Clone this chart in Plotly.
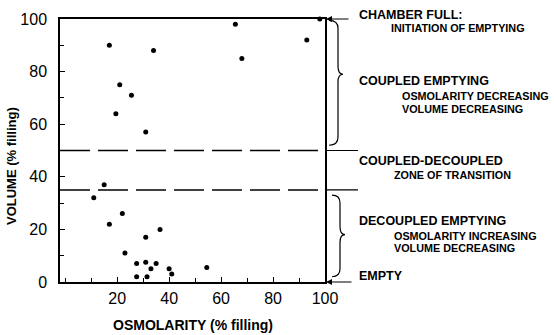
import plotly.graph_objects as go

# ---- data ----
osmolarity = [17, 34, 21, 25.5, 19.5, 31, 65.5, 68, 93, 98,
              15, 11, 22, 17, 36.5, 31, 23, 27.5, 31, 35, 33, 40, 54.5, 27.5, 31.5, 41]
volume = [90, 88, 75, 71, 64, 57, 98, 85, 92, 100,
          37, 32, 26, 22, 20, 17, 11, 7, 7.5, 7, 5, 5, 5.5, 2, 2, 3]

x_ticks = [20, 40, 60, 80, 100]
y_ticks = [0, 20, 40, 60, 80, 100]
boundaries = [50, 35]  # zone boundaries (volume %)

zone_titles = ["CHAMBER FULL:", "COUPLED EMPTYING", "COUPLED-DECOUPLED",
               "DECOUPLED EMPTYING", "EMPTY"]
zone_subtitles = ["INITIATION OF EMPTYING", "OSMOLARITY DECREASING", "VOLUME DECREASING",
                  "ZONE OF TRANSITION", "OSMOLARITY INCREASING", "VOLUME DECREASING"]

x_title = "OSMOLARITY (% filling)"
y_title = "VOLUME (% filling)"

# ---- figure ----
W, H = 554, 335
L, R, T, B = 60, 229, 19, 53
pw = W - L - R
ph = H - T - B


def px2paper(px):
    return (px - L) / pw


def py2paper(py):
    return (H - B - py) / ph


FONT = "Liberation Sans, Arial, sans-serif"

fig = go.Figure()
fig.add_trace(go.Scatter(
    x=osmolarity, y=volume, mode="markers",
    marker=dict(color="black", size=5),
    cliponaxis=False, showlegend=False, hoverinfo="x+y",
))

axis_common = dict(
    showline=True, linecolor="black", linewidth=1.5, mirror=True,
    showgrid=False, zeroline=False, ticks="inside", ticklen=5,
    tickcolor="black", tickwidth=1,
    tickfont=dict(family=FONT, size=16, color="black"),
    minor=dict(ticks="inside", dtick=10, ticklen=4, tickcolor="black", tickwidth=1),
)

fig.update_xaxes(range=[-2, 100], tickvals=x_ticks, ticklabelstandoff=1, **axis_common)
fig.update_yaxes(range=[0, 100], tickvals=y_ticks, ticklabelstandoff=8, **axis_common)

shapes = []
for b in boundaries:
    shapes.append(dict(type="line", xref="x", yref="y", x0=-2, x1=100, y0=b, y1=b,
                       line=dict(color="black", width=1.5, dash="30px,8px")))
    shapes.append(dict(type="line", xref="paper", yref="y", x0=1.0, x1=px2paper(358),
                       y0=b, y1=b, line=dict(color="black", width=1.2)))


def brace(ytop, ymid, ybot, xe, xv, xt, d):
    return (f"M {xe},{ytop} Q {xv},{ytop} {xv},{ytop - d} "
            f"L {xv},{ymid + d} Q {xv},{ymid} {xt},{ymid} "
            f"Q {xv},{ymid} {xv},{ymid - d} "
            f"L {xv},{ybot + d} Q {xv},{ybot} {xe},{ybot}")


shapes.append(dict(type="path", xref="paper", yref="y",
                   path=brace(99.5, 79, 52, px2paper(329), px2paper(338), px2paper(343), 3),
                   line=dict(color="black", width=1.2)))
shapes.append(dict(type="path", xref="paper", yref="y",
                   path=brace(33, 18, 2, px2paper(332), px2paper(340), px2paper(345), 3),
                   line=dict(color="black", width=1.2)))
fig.update_layout(shapes=shapes)

annotations = []
for yv, tail in [(100, 350), (0, 353)]:
    annotations.append(dict(xref="paper", yref="y", x=px2paper(326), y=yv, text="",
                            showarrow=True, ax=tail - 326, ay=0, arrowhead=2,
                            arrowsize=1, arrowwidth=1.2, arrowcolor="black"))

title_py = [15, 81, 161, 221, 276]
for t, py in zip(zone_titles, title_py):
    annotations.append(dict(xref="paper", yref="paper", x=px2paper(357), y=py2paper(py), text=t,
                            showarrow=False, xanchor="left", yanchor="middle",
                            font=dict(family=FONT, size=12.5, color="black", weight="bold")))

sub_pos = [(389, 28), (400, 96), (400, 109), (392, 175), (392, 236), (392, 248)]
for t, (xp, py) in zip(zone_subtitles, sub_pos):
    annotations.append(dict(xref="paper", yref="paper", x=px2paper(xp), y=py2paper(py), text=t,
                            showarrow=False, xanchor="left", yanchor="middle",
                            font=dict(family=FONT, size=10.8, color="black", weight="bold")))

annotations.append(dict(xref="paper", yref="paper", x=px2paper(192.5), y=py2paper(325),
                        text=x_title, showarrow=False, xanchor="center", yanchor="middle",
                        font=dict(family=FONT, size=14, color="black", weight="bold")))
annotations.append(dict(xref="paper", yref="paper", x=px2paper(11), y=py2paper(166),
                        text=y_title, showarrow=False, textangle=-90,
                        xanchor="center", yanchor="middle",
                        font=dict(family=FONT, size=13, color="black", weight="bold")))

fig.update_layout(
    annotations=annotations,
    width=W, height=H,
    margin=dict(l=L, r=R, t=T, b=B),
    paper_bgcolor="white", plot_bgcolor="white",
    font=dict(family=FONT, color="black"),
)

fig.write_html("out.html")
